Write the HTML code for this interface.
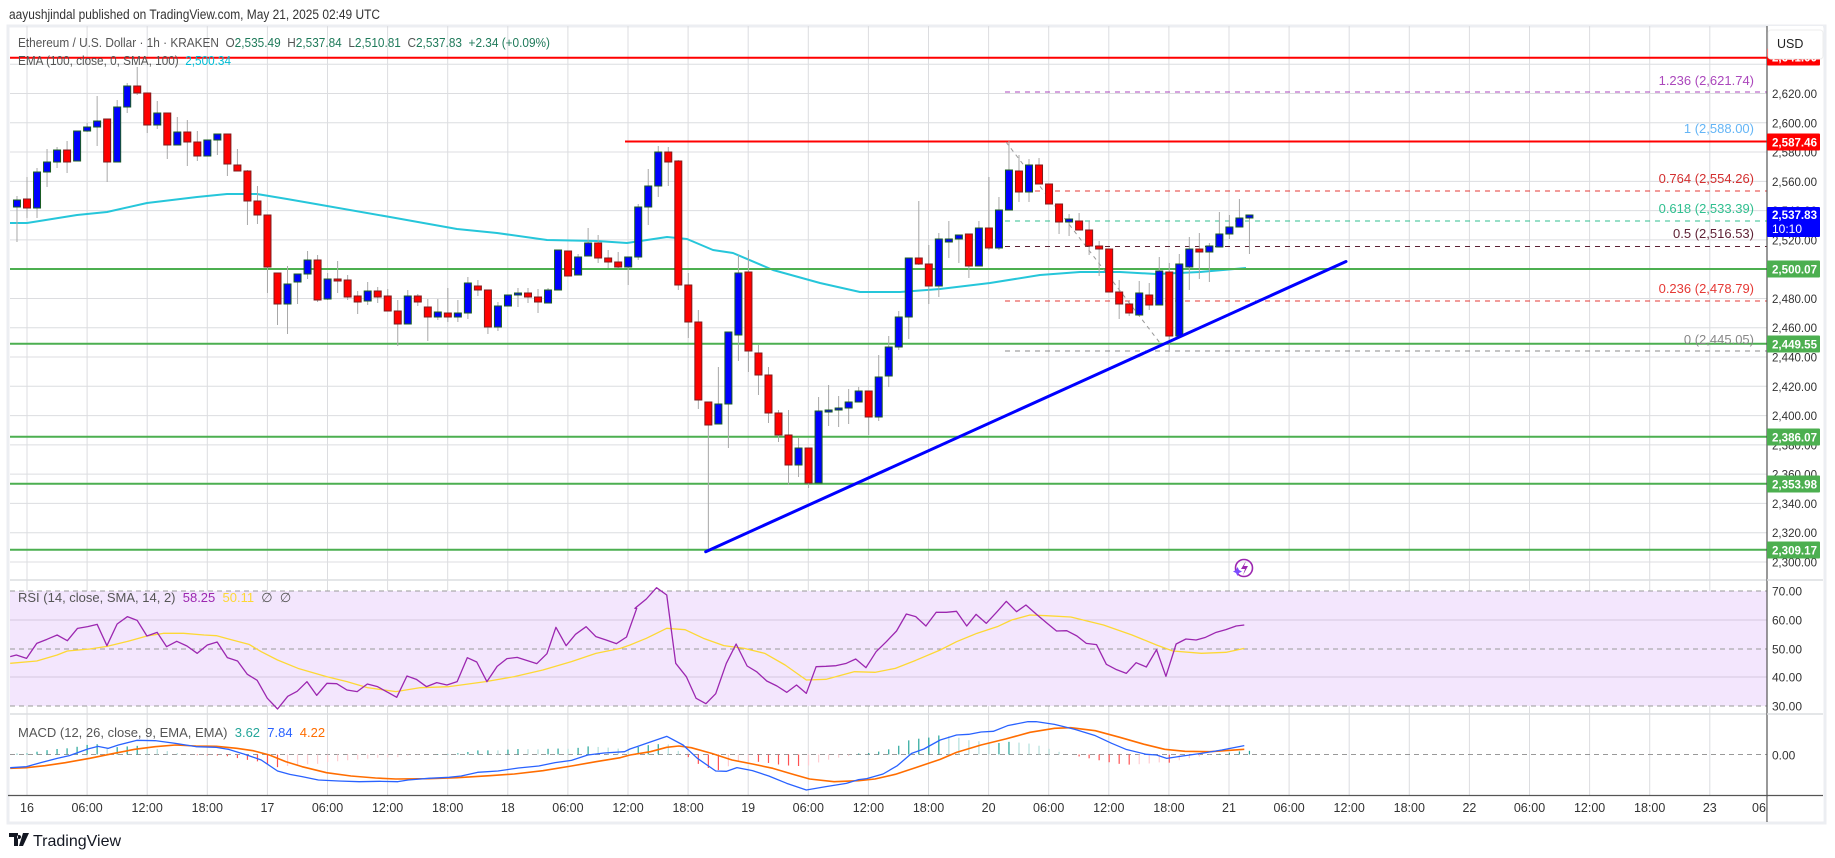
<!DOCTYPE html>
<html><head><meta charset="utf-8"><style>
html,body{margin:0;padding:0;background:#fff;}
svg{display:block;font-family:"Liberation Sans",sans-serif;}
</style></head><body>
<svg id="c" width="1835" height="858" xmlns="http://www.w3.org/2000/svg">
<rect x="0" y="0" width="1835" height="858" fill="#fff"/>
<rect x="8" y="26" width="1817" height="797" fill="#fff" stroke="#eceef2" stroke-width="3"/>
<g id="grid"></g>
<rect x="10" y="591" width="1757" height="115" fill="#f3e6fd"/>
<g id="panes"></g>
<g id="main"></g>
<g id="txt"></g>
</svg>
<script>
const NS="http://www.w3.org/2000/svg";
function el(p,tag,a,txt){const e=document.createElementNS(NS,tag);for(const k in a)e.setAttribute(k,a[k]);if(txt!==undefined)e.textContent=txt;p.appendChild(e);return e;}
const G=document.getElementById('grid'),P=document.getElementById('panes'),M=document.getElementById('main'),T=document.getElementById('txt');
const AX=1767;
const X=t=>27+10.02*t;
const Y=p=>93.5+(2620-p)*1.464;
const gc="#dcdde0";
for(let k=0;k<=29;k++){const x=27+60.1*k; if(x>AX)break; el(G,'line',{x1:x,y1:26,x2:x,y2:795,stroke:gc,'stroke-width':1});}
for(let p=2300;p<=2640;p+=20){el(G,'line',{x1:10,y1:Y(p),x2:AX,y2:Y(p),stroke:gc,'stroke-width':1});}
el(G,'line',{x1:10,y1:580,x2:1823,y2:580,stroke:gc,'stroke-width':1.5});
el(G,'line',{x1:10,y1:714,x2:1823,y2:714,stroke:gc,'stroke-width':1.5});
[620,677].forEach(y=>el(P,'line',{x1:10,y1:y,x2:AX,y2:y,stroke:"#d5c8e0",'stroke-width':1}));
[591,649,706].forEach(y=>el(P,'line',{x1:10,y1:y,x2:AX,y2:y,stroke:"#999",'stroke-width':1,'stroke-dasharray':'5 4'}));
el(P,'line',{x1:10,y1:754.5,x2:AX,y2:754.5,stroke:"#999",'stroke-width':1,'stroke-dasharray':'5 4'});
function interp(pts,x){if(x<=pts[0][0])return pts[0][1];for(let i=1;i<pts.length;i++){if(x<=pts[i][0]){const a=pts[i-1],b=pts[i];return a[1]+(b[1]-a[1])*(x-a[0])/(b[0]-a[0]);}}return pts[pts.length-1][1];}
function conv(arr,x0){return arr.map(p=>[x0+p[0]/2.45,575+p[1]/3]);}
function poly(par,pts,col,w){el(par,'polyline',{points:pts.map(p=>p.join(',')).join(' '),fill:'none',stroke:col,'stroke-width':w,'stroke-linejoin':'round'});}
const rsiA=conv([[25,245],[40,240],[65,250],[90,205],[115,193],[140,180],[165,197],[190,160],[215,155],[238,148],[262,212],[287,147],[312,125],[336,136],[360,183],[385,172],[408,215],[433,199],[458,213],[483,235],[508,210],[532,201],[557,248],[582,258],[606,298],[630,316],[655,370],[680,402],[705,364],[728,349],[752,320],[776,361],[801,325],[825,326],[850,345],[875,350],[900,327],[925,335],[950,352],[972,367],[997,303],[1020,313],[1045,335],[1070,323],[1095,330],[1120,320],[1145,248],[1168,261],[1193,320],[1218,274],[1242,251],[1267,247],[1290,256],[1315,266],[1340,236],[1362,157],[1387,212],[1410,178],[1436,155],[1460,185],[1485,195],[1510,206],[1535,186],[1560,100]],0);
const rsiB=conv([[12,100],[40,72],[65,38],[90,60],[112,265],[138,305],[162,370],[186,386],[210,356],[236,265],[260,207],[287,273],[310,290],[335,318],[360,333],[384,352],[408,330],[432,355],[456,275],[480,274],[505,272],[530,265],[553,252],[578,278],[603,230],[628,200],[653,168],[677,117],[700,125],[725,153],[750,112],[775,112],[800,109],[825,153],[848,118],[873,145],[898,112],[922,79],[947,110],[970,90],[995,117],[1020,143],[1045,168],[1070,167],[1095,183],[1118,205],[1143,209],[1167,268],[1192,284],[1216,295],[1240,263],[1265,276],[1290,224],[1313,304],[1338,207],[1362,192],[1387,195],[1410,187],[1436,172],[1460,164],[1485,153],[1505,150]],630);
const maA=conv([[25,265],[90,258],[140,240],[165,228],[220,222],[262,214],[310,200],[360,183],[400,175],[450,175],[500,180],[530,182],[560,192],[610,208],[640,230],[680,255],[730,280],[800,305],[850,320],[900,338],[970,350],[1030,338],[1100,335],[1190,320],[1260,305],[1330,285],[1400,260],[1460,235],[1520,220]],0);
const maB=conv([[0,210],[40,190],[90,160],[135,164],[180,190],[230,212],[280,220],[330,235],[380,270],[432,315],[480,313],[550,290],[600,292],[650,280],[700,256],[760,225],[800,200],[850,175],[900,155],[935,135],[980,120],[1020,122],[1080,126],[1160,150],[1230,180],[1290,210],[1330,228],[1400,235],[1460,232],[1505,220]],630);
poly(P,maA.concat(maB),"#fdd835",1.3);
poly(P,rsiA.concat(rsiB),"#9c27b0",1.3);
const bA=conv([[25,578],[65,575],[100,563],[140,550],[170,542],[215,522],[240,514],[265,520],[290,510],[335,496],[380,497],[430,505],[480,515],[530,517],[560,523],[600,538],[640,555],[680,588],[710,598],[740,605],[780,615],[830,618],[880,620],[930,619],[975,620],[1000,615],[1050,610],[1100,607],[1130,603],[1170,592],[1220,588],[1270,579],[1320,573],[1360,563],[1400,556],[1440,540],[1480,534],[1530,530]],0);
const bB=conv([[0,522],[40,505],[90,484],[130,510],[165,550],[210,588],[236,589],[262,578],[300,587],[340,603],[384,625],[432,645],[480,635],[530,625],[560,614],[580,611],[620,597],[655,572],[690,535],[720,522],[760,495],[800,480],[830,478],[860,471],[890,469],[925,452],[975,440],[995,440],[1040,448],[1090,463],[1140,482],[1180,505],[1215,523],[1265,538],[1290,540],[1315,550],[1360,542],[1400,535],[1450,525],[1505,512]],630);
const oA=conv([[25,580],[65,578],[110,572],[160,563],[220,550],[280,535],[330,523],[380,515],[430,510],[480,513],[530,514],[580,520],[620,527],[660,540],[700,560],[740,575],[800,593],[860,603],[920,609],[970,612],[1050,611],[1120,608],[1200,602],[1260,597],[1330,587],[1400,573],[1460,560],[1520,548]],0);
const oB=conv([[0,540],[50,530],[90,517],[120,513],[150,518],[200,535],[250,555],[300,567],[350,580],[400,598],[440,612],[500,620],[560,617],[600,612],[650,598],[700,578],[760,553],[800,532],[860,510],[920,492],[980,472],[1040,460],[1080,458],[1140,467],[1200,487],[1260,508],[1310,523],[1360,529],[1420,530],[1470,526],[1505,523]],630);
const BL=bA.concat(bB), OR=oA.concat(oB);
let prev=null;
for(let t=-1;t<=122;t++){const x=X(t);const h=interp(OR,x)-interp(BL,x);let col;
 if(h>=0)col=(prev!==null&&h<prev)?"#b2dfdb":"#26a69a";else col=(prev!==null&&h>prev)?"#ffcdd2":"#ff5252";
 prev=h; if(Math.abs(h)<0.3)continue;
 el(P,'line',{x1:x,y1:754.5,x2:x,y2:754.5-h,stroke:col,'stroke-width':1.2});}
poly(P,OR,"#ff6d00",1.6);
poly(P,BL,"#2962ff",1.3);
el(M,'clipPath',{id:'cp'});
el(M.lastChild,'rect',{x:10,y:26,width:AX-10,height:554});
const MG=el(M,'g',{'clip-path':'url(#cp)'});
const ema=[[10,223],[27,223],[77,215],[107,212],[147,203],[197,197],[227,194],[257,194],[287,199],[310,203],[390,217],[457,229],[497,233],[547,240],[597,241],[627,243],[647,240],[667,237],[687,239],[713,250],[733,253],[773,270],[820,283],[860,292],[900,292],[940,289],[990,283],[1040,275],[1080,272],[1120,272],[1156,274],[1200,272],[1246,268]];
poly(MG,ema,"#26c6da",2);
const fibs=[[92,"#ab47bc"],[141,"#64b5f6"],[191,"#e53935"],[221,"#2fbf8f"],[246.5,"#5d1f33"],[301,"#e53935"],[351,"#888"]];
fibs.forEach(f=>el(MG,'line',{x1:1005,y1:f[0],x2:AX,y2:f[0],stroke:f[1],'stroke-width':1,'stroke-dasharray':'5 5'}));
el(MG,'line',{x1:10,y1:57.7,x2:AX,y2:57.7,stroke:"#ff0000",'stroke-width':2});
el(MG,'line',{x1:625,y1:141.5,x2:AX,y2:141.5,stroke:"#ff0000",'stroke-width':2});
[269,343.7,436.7,483.7,549.7].forEach(y=>el(MG,'line',{x1:10,y1:y,x2:AX,y2:y,stroke:"#4caf50",'stroke-width':2}));
el(MG,'line',{x1:1006,y1:142,x2:1160,y2:343,stroke:"#999",'stroke-width':1,'stroke-dasharray':'4 4'});
const C=[[-1,196,242,200,207,1],[0,177,218,199,208,0],[1,168,218,172,208,1],[2,149,187,162,172,1],[3,147,168,150,162,1],[4,141,173,150,162,0],[5,131,161,131,161,1],[6,123,132,127,131,1],[7,96,146,121,127,1],[8,119,182,119,162,0],[9,100,162,107,162,1],[10,83,113,86,107,1],[11,67,95,86,93,0],[12,93,133,93,125,0],[13,101,129,113,125,1],[14,113,159,113,145,0],[15,117,145,132,145,1],[16,120,166,132,142,0],[17,131,161,142,156,0],[18,140,156,140,156,1],[19,134,155,134,140,1],[20,134,176,134,164,0],[21,149,171,165,171,0],[22,170,225,171,201,0],[23,186,224,201,215,0],[24,215,293,215,267,0],[25,273,325,273,304,0],[26,266,334,284,304,1],[27,274,304,274,282,1],[28,251,279,260,274,1],[29,255,302,260,300,0],[30,273,300,279,299,1],[31,261,293,279,281,0],[32,275,300,280,297,0],[33,291,314,296,302,0],[34,282,305,291,301,1],[35,287,303,291,297,0],[36,289,311,296,311,0],[37,300,346,311,324,0],[38,290,324,296,324,1],[39,294,306,296,302,0],[40,299,341,307,317,0],[41,299,320,312,317,1],[42,288,322,313,317,0],[43,300,322,313,317,1],[44,277,319,283,313,1],[45,280,296,286,290,0],[46,290,334,290,327,0],[47,302,331,306,327,1],[48,295,306,295,306,1],[49,288,307,293,295,1],[50,288,303,293,297,0],[51,289,313,297,302,0],[52,288,303,290,303,1],[53,250,290,250,290,1],[54,251,276,251,276,0],[55,254,275,257,275,1],[56,228,256,243,256,1],[57,235,263,243,258,0],[58,250,268,258,262,0],[59,252,268,262,267,0],[60,257,285,257,267,1],[61,204,260,207,257,1],[62,169,225,186,207,1],[63,146,197,152,186,1],[64,147,186,152,162,0],[65,160,290,161,285,0],[66,273,338,285,322,0],[67,310,409,322,400,0],[68,402,552,402,425,0],[69,367,424,404,424,1],[70,332,448,332,404,1],[71,255,361,273,335,1],[72,250,372,272,351,0],[73,345,395,353,375,0],[74,367,423,375,413,0],[75,410,442,413,435,0],[76,410,485,435,465,0],[77,438,477,448,465,1],[78,448,488,448,483,0],[79,397,483,411,483,1],[80,385,426,410,412,1],[81,396,427,408,410,1],[82,389,424,402,408,1],[83,387,402,391,402,1],[84,391,435,391,417,0],[85,355,421,377,417,1],[86,336,387,347,376,1],[87,311,350,317,347,1],[88,258,339,258,317,1],[89,201,265,258,264,0],[90,245,304,264,286,0],[91,233,297,239,286,1],[92,221,258,239,242,1],[93,235,263,235,239,1],[94,234,278,234,266,0],[95,221,266,228,266,1],[96,177,250,228,248,0],[97,197,250,210,248,1],[98,141,210,170,210,1],[99,155,202,171,192,0],[100,159,202,165,192,1],[101,158,184,165,184,0],[102,184,204,184,204,0],[103,204,234,204,222,0],[104,214,236,219,222,1],[105,213,230,221,230,0],[106,221,255,230,246,0],[107,241,276,246,249,0],[108,249,292,249,292,0],[109,280,319,292,304,0],[110,304,316,304,313,0],[111,281,315,293,315,1],[112,283,310,295,305,0],[113,257,305,271,305,1],[114,263,350,272,336,0],[115,254,336,264,336,1],[116,237,290,249,267,1],[117,233,279,249,252,0],[118,243,282,246,252,1],[119,212,247,234,247,1],[120,215,239,227,234,1],[121,199,227,218,227,1],[122,215,254,215,218,1]];
C.forEach(c=>{const x=X(c[0]);
 el(MG,'line',{x1:x,y1:c[1],x2:x,y2:c[2],stroke:"#a8a8a8",'stroke-width':1});
 const h=Math.max(1.5,c[4]-c[3]);
 el(MG,'rect',{x:x-3.5,y:c[3],width:7,height:h,fill:c[5]?"#0000ff":"#ff0000",stroke:c[5]?"#1b5e20":"#7f1d1d",'stroke-width':1});});
el(MG,'line',{x1:705.7,y1:551.7,x2:1346,y2:261.5,stroke:"#0000ff",'stroke-width':3,'stroke-linecap':'round'});
el(T,'circle',{cx:1244,cy:568,r:8.5,fill:'none',stroke:'#9c27b0','stroke-width':1.6});
el(T,'path',{d:'M1246 561 L1241 569 L1245 569 L1243 575 L1248 566 L1244 566 Z',fill:'#9c27b0'});
el(T,'path',{d:'M1236 570 l1.5 -3 l1.5 3 l3 1.5 l-3 1.5 l-1.5 3 l-1.5 -3 l-3 -1.5 Z',fill:'#7c4dff'});
const fl=[[80,"#ab47bc","1.236 (2,621.74)"],[128,"#64b5f6","1 (2,588.00)"],[178,"#d32f2f","0.764 (2,554.26)"],[208,"#2fbf8f","0.618 (2,533.39)"],[233,"#5d1f33","0.5 (2,516.53)"],[288,"#e53935","0.236 (2,478.79)"],[339,"#888","0 (2,445.05)"]];
fl.forEach(f=>el(T,'text',{x:1754,y:f[0]+5,fill:f[1],'font-size':13,'text-anchor':'end'},f[2]));
el(T,'rect',{x:AX,y:26,width:56,height:770,fill:'#fff'});
el(T,'line',{x1:AX,y1:26,x2:AX,y2:822,stroke:"#555",'stroke-width':1.2});
el(T,'line',{x1:8,y1:795.5,x2:1823,y2:795.5,stroke:"#555",'stroke-width':1.2});
el(T,'line',{x1:AX,y1:580,x2:1823,y2:580,stroke:gc,'stroke-width':1.5});
el(T,'line',{x1:AX,y1:714,x2:1823,y2:714,stroke:gc,'stroke-width':1.5});
for(let p=2300;p<=2620;p+=20){el(T,'text',{x:1772,y:Y(p)+4.5,fill:'#333','font-size':12,textLength:45,lengthAdjust:'spacingAndGlyphs'},(p/1000|0)+","+String(p%1000).padStart(3,'0')+".00");}
[[591,"70.00"],[620,"60.00"],[649,"50.00"],[677,"40.00"],[706,"30.00"],[755,"0.00"]].forEach(a=>el(T,'text',{x:1772,y:a[0]+4.5,fill:'#333','font-size':12},a[1]));
function tag(y,col,txt,h){el(T,'rect',{x:AX,y:y-(h||17)/2,width:53,height:h||17,fill:col,rx:1});el(T,'text',{x:1772,y:y+4.5,fill:'#fff','font-size':12,'font-weight':'bold',textLength:45,lengthAdjust:'spacingAndGlyphs'},txt);}
tag(57,"#ff0000","2,641.00");
tag(142,"#ff0000","2,587.46");
tag(269,"#4caf50","2,500.07");
tag(344,"#4caf50","2,449.55");
tag(437,"#4caf50","2,386.07");
tag(484,"#4caf50","2,353.98");
tag(550,"#4caf50","2,309.17");
el(T,'rect',{x:AX,y:207,width:53,height:30,fill:"#0000ff",rx:1});
el(T,'text',{x:1772,y:219,fill:'#fff','font-size':12,'font-weight':'bold',textLength:45,lengthAdjust:'spacingAndGlyphs'},"2,537.83");
el(T,'text',{x:1772,y:233,fill:'#fff','font-size':12},"10:10");
el(T,'rect',{x:1768,y:30,width:55,height:29,fill:'#fff',stroke:'#eee',rx:3});
el(T,'text',{x:1777,y:48,fill:'#222','font-size':12.5},"USD");
const tl=["16","06:00","12:00","18:00","17","06:00","12:00","18:00","18","06:00","12:00","18:00","19","06:00","12:00","18:00","20","06:00","12:00","18:00","21","06:00","12:00","18:00","22","06:00","12:00","18:00","23"];
tl.forEach((s,k)=>el(T,'text',{x:27+60.1*k,y:812,fill:'#333','font-size':12.5,'text-anchor':'middle'},s));
el(T,'text',{x:1752,y:812,fill:'#333','font-size':12.5},"06");
el(T,'rect',{x:1767.6,y:797,width:56,height:24,fill:'#fff'});
el(T,'text',{x:9,y:19,fill:'#333','font-size':13.5,textLength:371,lengthAdjust:'spacingAndGlyphs'},"aayushjindal published on TradingView.com, May 21, 2025 02:49 UTC");
const lg=el(T,'text',{x:18,y:47,'font-size':13,fill:'#555'});
[["Ethereum / U.S. Dollar · 1h · KRAKEN  ","#555"],["O","#555"],["2,535.49  ","#1f7a5a"],["H","#555"],["2,537.84  ","#1f7a5a"],["L","#555"],["2,510.81  ","#1f7a5a"],["C","#555"],["2,537.83  +2.34 (+0.09%)","#1f7a5a"]].forEach(s=>el(lg,'tspan',{fill:s[1]},s[0]));
lg.setAttribute('textLength',532);lg.setAttribute('lengthAdjust','spacingAndGlyphs');lg.setAttribute('style','white-space:pre');
const e2=el(T,'text',{x:18,y:65,'font-size':13,fill:'#555',textLength:213,lengthAdjust:'spacingAndGlyphs',style:'white-space:pre'});
el(e2,'tspan',{},"EMA (100, close, 0, SMA, 100)  ");el(e2,'tspan',{fill:'#00bcd4'},"2,500.34");
const r2=el(T,'text',{x:18,y:602,'font-size':13,fill:'#555',style:'white-space:pre'});
el(r2,'tspan',{},"RSI (14, close, SMA, 14, 2)  ");el(r2,'tspan',{fill:'#9c27b0'},"58.25  ");el(r2,'tspan',{fill:'#fdd835'},"50.11  ");el(r2,'tspan',{},"∅  ∅");
const m2=el(T,'text',{x:18,y:737,'font-size':13,fill:'#555',style:'white-space:pre'});
el(m2,'tspan',{},"MACD (12, 26, close, 9, EMA, EMA)  ");el(m2,'tspan',{fill:'#26a69a'},"3.62  ");el(m2,'tspan',{fill:'#2962ff'},"7.84  ");el(m2,'tspan',{fill:'#ff6d00'},"4.22");
el(T,'path',{d:'M9 833 h9 v13 h-4 v-9 h-5 Z M19 835 a2 2 0 1 0 0.1 0 Z M23 833 h6 l-6 13 h-4 Z',fill:'#131722'});
el(T,'text',{x:33,y:846,fill:'#131722','font-size':16},"TradingView");
</script>
</body></html>
